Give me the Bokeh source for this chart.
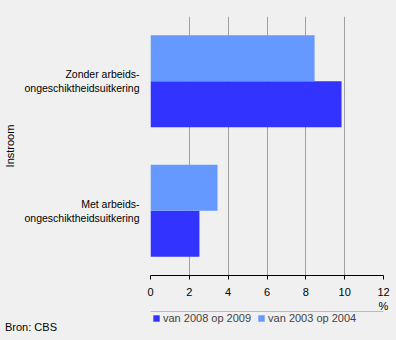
from bokeh.plotting import figure
from bokeh.layouts import column
from bokeh.models import FactorRange, Legend, LegendItem, FixedTicker, Div
from bokeh.transform import dodge
from bokeh.embed import file_html
from bokeh.resources import INLINE

categories = ["Zonder arbeids-\nongeschiktheidsuitkering", "Met arbeids-\nongeschiktheidsuitkering"]
series_names = ["van 2008 op 2009", "van 2003 op 2004"]
values_2008_2009 = [9.84, 2.52]
values_2003_2004 = [8.45, 3.45]
x_ticks = [0, 2, 4, 6, 8, 10, 12]
x_unit = "%"
source_note = "Bron: CBS"

BG = "#f0f0f0"
FONT = "Liberation Sans"
DARK = "#3333ff"
LIGHT = "#6699ff"
colors = [DARK, LIGHT]

# ---- main chart ----
p = figure(width=396, height=315, output_backend="svg", toolbar_location=None,
           y_range=FactorRange(factors=list(reversed(categories)), range_padding=0),
           x_range=(0, 12), min_border_left=150, min_border_right=13,
           min_border_top=16, min_border_bottom=40)
p.background_fill_color = BG
p.border_fill_color = BG
p.outline_line_color = None

src = dict(cat=categories, a=values_2008_2009, b=values_2003_2004)
bh = 0.355
p.hbar(y=dodge("cat", -bh / 2, range=p.y_range), right="a", left=0, height=bh,
       source=src, fill_color=DARK, line_color=None)
p.hbar(y=dodge("cat", bh / 2, range=p.y_range), right="b", left=0, height=bh,
       source=src, fill_color=LIGHT, line_color=None)

p.xaxis.ticker = FixedTicker(ticks=x_ticks)
p.xaxis.major_label_overrides = {x_ticks[-1]: f"{x_ticks[-1]}\n{x_unit}"}
p.xaxis.axis_line_color = "black"
p.xaxis.major_tick_line_color = "black"
p.xaxis.major_tick_in = 0
p.xaxis.major_tick_out = 4
p.xaxis.minor_tick_line_color = None
p.xaxis.major_label_text_font = FONT
p.xaxis.major_label_text_font_size = "11px"
p.xaxis.major_label_text_color = "black"
p.xaxis.major_label_standoff = 6

p.yaxis.axis_line_color = None
p.yaxis.major_tick_line_color = None
p.yaxis.minor_tick_line_color = None
p.yaxis.major_label_text_font = FONT
p.yaxis.major_label_text_font_size = "10.5px"
p.yaxis.major_label_text_color = "black"
p.yaxis.major_label_standoff = 5
p.yaxis.axis_label = "Instroom"
p.yaxis.axis_label_text_font = FONT
p.yaxis.axis_label_text_font_size = "11px"
p.yaxis.axis_label_text_font_style = "normal"
p.yaxis.axis_label_text_color = "black"
p.yaxis.axis_label_standoff = 6

p.xgrid.grid_line_color = "#a0a0a0"
p.xgrid.ticker = FixedTicker(ticks=x_ticks)
p.ygrid.grid_line_color = None

# ---- legend strip ----
q = figure(width=396, height=13, output_backend="svg", toolbar_location=None,
           x_axis_type=None, y_axis_type=None, min_border=0,
           min_border_left=150, min_border_right=13,
           x_range=(0, 1), y_range=(0, 1), margin=(-4, 0, 0, 0))
q.background_fill_color = BG
q.border_fill_color = BG
q.outline_line_color = None
q.grid.grid_line_color = None

# legend swatches: bars kept outside the strip's visible range
items = []
for name, col in zip(series_names, colors):
    r = q.hbar(y=[5], right=[1], left=0, height=1, fill_color=col, line_color=None)
    items.append(LegendItem(label=name, renderers=[r]))

legend = Legend(items=items, orientation="horizontal", location=(2, 0),
                background_fill_alpha=0, border_line_color=None,
                padding=0, margin=0, spacing=6, glyph_width=8, glyph_height=8,
                label_standoff=3, label_text_font=FONT, label_text_font_size="11px")
q.add_layout(legend, "center")

# ---- source note ----
note = Div(text=(f'<div style="position:relative;top:-5px;left:5px;'
                 f'font-family:\'{FONT}\';font-size:11px;line-height:13px;color:black;'
                 f'white-space:nowrap">{source_note}</div>'),
           width=396, height=16, styles={"background-color": BG, "margin": "0"})

layout = column(p, q, note, spacing=0, styles={"background-color": BG})
open("out.html", "w").write(file_html(layout, INLINE))
